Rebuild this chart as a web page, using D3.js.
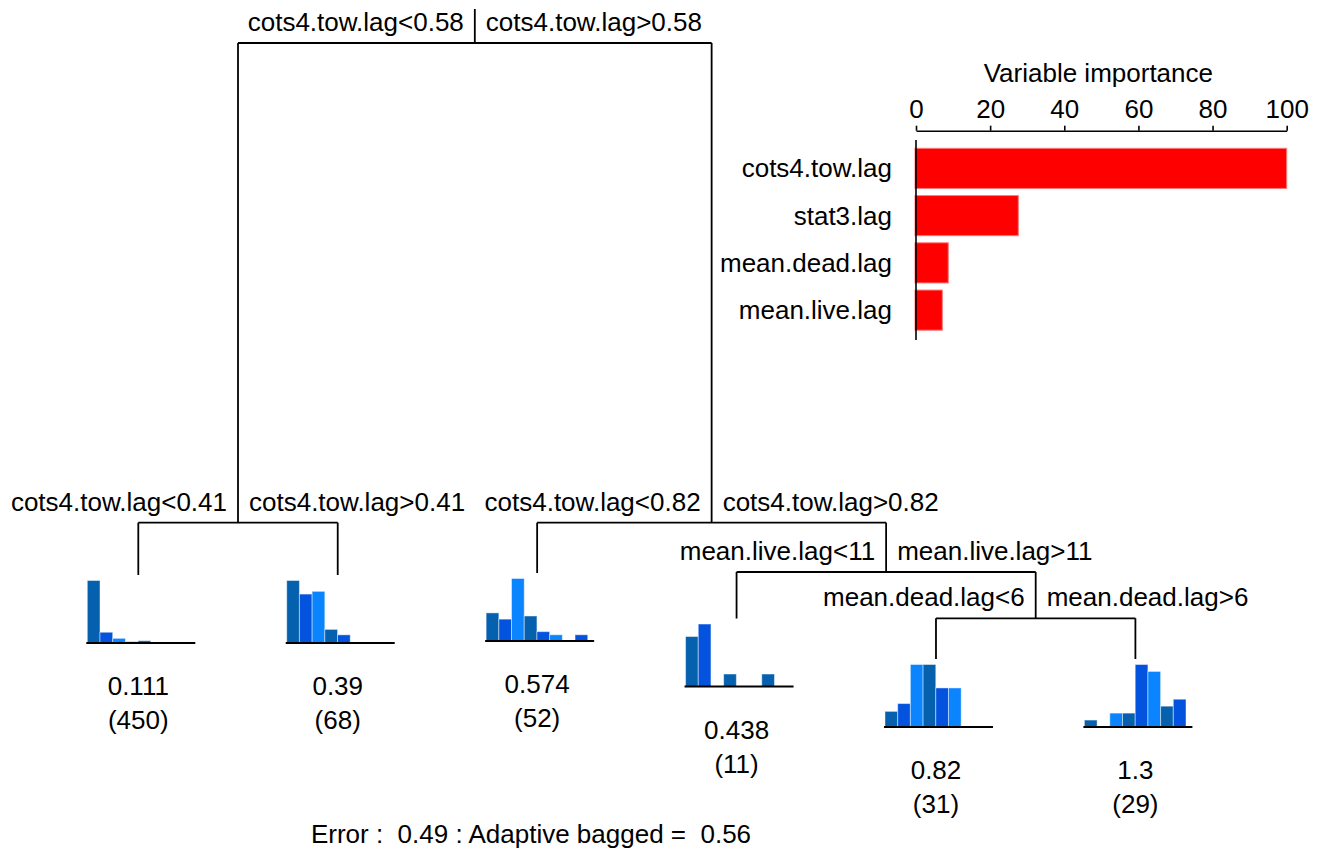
<!DOCTYPE html>
<html>
<head>
<meta charset="utf-8">
<script src="https://cdn.jsdelivr.net/npm/d3@7"></script>
<style>
  body { margin: 0; background: #fff; }
  svg { display: block; font-family: "Liberation Sans", Arial, Helvetica, sans-serif; }
</style>
</head>
<body>
<script>
// ---- Regression tree (rpart node numbering: children of k are 2k and 2k+1) ----
const splitNodeIds = [1, 2, 3, 7, 15];
const splitVars    = ["cots4.tow.lag", "cots4.tow.lag", "cots4.tow.lag", "mean.live.lag", "mean.dead.lag"];
const splitCuts    = ["0.58", "0.41", "0.82", "11", "6"];
// relative deviance at each split (drives the vertical layout)
const splitRelDev  = [1, 0.2213, 0.2213, 0.1412, 0.0661];

const leafIds    = [4, 5, 6, 14, 30, 31];
const leafMeans  = ["0.111", "0.39", "0.574", "0.438", "0.82", "1.3"];
const leafN      = [450, 68, 52, 11, 31, 29];
const leafRelDev = [0.1364, 0.1364, 0.1396, 0.0657, 0, 0];
// response histograms in each terminal node (8 bins)
const leafHist = [
  [338, 58, 25, 7, 12, 5, 5, 0],
  [23, 18, 19, 5, 3, 0, 0, 0],
  [9, 7, 20, 8, 3, 2, 0, 2],
  [4, 5, 0, 1, 0, 0, 1, 0],
  [2, 3, 8, 8, 5, 5, 0, 0],
  [1, 0, 2, 2, 9, 8, 3, 4]
];

// ---- Variable importance ----
const impVars   = ["cots4.tow.lag", "stat3.lag", "mean.dead.lag", "mean.live.lag"];
const impValues = [100, 27.6, 8.7, 7.1];
const impTicks  = [0, 20, 40, 60, 80, 100];

// ---- Error summary ----
const treeError   = "0.49";
const baggedError = "0.56";

const W = 1325, H = 849, FS = 26;
const histColors = ["#0560ae", "#0453de", "#0a84ff"];

const svg = d3.select("body").append("svg")
  .attr("width", W).attr("height", H)
  .style("font-size", FS + "px");

// ---- layout ----
const xLeaf = d3.scalePoint().domain(leafIds).range([138.3, 1135.4]);
const yTree = d3.scaleLinear().domain([1, 0]).range([43, 659]);

const relDev = new Map();
splitNodeIds.forEach((id, i) => relDev.set(id, splitRelDev[i]));
leafIds.forEach((id, i) => relDev.set(id, leafRelDev[i]));

function xOf(id) {
  if (leafIds.includes(id)) return xLeaf(id);
  return (xOf(2 * id) + xOf(2 * id + 1)) / 2;
}
const yOf = id => yTree(relDev.get(id));

const tree = svg.append("g")
  .attr("stroke", "#000").attr("stroke-width", 1.8).attr("fill", "none");

// root stem
tree.append("line")
  .attr("x1", xOf(1)).attr("x2", xOf(1))
  .attr("y1", 9).attr("y2", yOf(1));

splitNodeIds.forEach((id, i) => {
  const x = xOf(id), y = yOf(id);
  const l = 2 * id, r = 2 * id + 1;
  tree.append("line").attr("x1", xOf(l)).attr("x2", xOf(r)).attr("y1", y).attr("y2", y);
  [l, r].forEach(c => {
    tree.append("line").attr("x1", xOf(c)).attr("x2", xOf(c)).attr("y1", y).attr("y2", yOf(c));
  });
  svg.append("text").attr("x", x - 11).attr("y", y - 12).attr("text-anchor", "end")
    .text(splitVars[i] + "<" + splitCuts[i]);
  svg.append("text").attr("x", x + 11).attr("y", y - 12).attr("text-anchor", "start")
    .text(splitVars[i] + ">" + splitCuts[i]);
});

// ---- terminal-node histograms ----
const nBins = 8;
const xBin = d3.scaleLinear().domain([0, nBins]).range([-51, -51 + 12.7 * nBins]);

leafIds.forEach((id, i) => {
  const counts = leafHist[i];
  const x0 = xOf(id);
  const base = yOf(id) + 68;
  const hScale = d3.scaleLinear().domain([0, d3.max(counts)]).range([0, 62.5]);
  const g = svg.append("g").attr("transform", `translate(${x0},${base})`);
  g.selectAll("rect").data(counts).join("rect")
    .attr("x", (d, k) => xBin(k))
    .attr("width", xBin(1) - xBin(0))
    .attr("y", d => -hScale(d))
    .attr("height", d => hScale(d))
    .attr("fill", (d, k) => histColors[k % 3])
    .attr("stroke", "rgba(255,255,255,0.45)")
    .attr("stroke-width", 1)
    .style("display", d => d > 0 ? null : "none");
  g.append("line").attr("x1", -52).attr("x2", 57).attr("y1", 0).attr("y2", 0)
    .attr("stroke", "#000").attr("stroke-width", 2);
  g.append("text").attr("x", 0).attr("y", 52).attr("text-anchor", "middle").text(leafMeans[i]);
  g.append("text").attr("x", 0).attr("y", 86).attr("text-anchor", "middle").text("(" + leafN[i] + ")");
});

// ---- variable importance panel ----
const xImp = d3.scaleLinear().domain([0, 100]).range([916, 1286.7]);
const yImp = d3.scaleBand().domain(impVars).range([140.5, 338]).paddingInner(0.15).paddingOuter(0.165);

svg.append("text").attr("x", (xImp(0) + xImp(100)) / 2 - 3).attr("y", 81.5)
  .attr("text-anchor", "middle").text("Variable importance");

const axis = svg.append("g").attr("transform", "translate(0,130.7)")
  .call(d3.axisTop(xImp).tickValues(impTicks).tickSize(5).tickSizeOuter(0).tickPadding(8));
axis.selectAll("path, line").attr("stroke", "#000").attr("stroke-width", 1.6);
axis.selectAll("text").attr("fill", "#000").style("font-size", FS + "px")
  .style("font-family", '"Liberation Sans", Arial, sans-serif');

svg.append("g").selectAll("rect").data(impValues).join("rect")
  .attr("x", xImp(0) - 1)
  .attr("y", (d, i) => yImp(impVars[i]))
  .attr("width", d => xImp(d) - xImp(0) + 1)
  .attr("height", yImp.bandwidth())
  .attr("fill", "#ff0000")
  .attr("stroke", "#ff7a7a").attr("stroke-width", 1);

svg.append("line").attr("x1", xImp(0)).attr("x2", xImp(0)).attr("y1", 140).attr("y2", 340)
  .attr("stroke", "#000").attr("stroke-width", 1.6);

svg.append("g").selectAll("text").data(impVars).join("text")
  .attr("x", 892)
  .attr("y", d => yImp(d) + yImp.bandwidth() / 2)
  .attr("dy", "0.35em")
  .attr("text-anchor", "end")
  .text(d => d);

// ---- error summary ----
svg.append("text").attr("x", 531).attr("y", 843).attr("text-anchor", "middle")
  .attr("xml:space", "preserve").style("white-space", "pre")
  .text("Error :  " + treeError + " : Adaptive bagged =  " + baggedError);
</script>
</body>
</html>
